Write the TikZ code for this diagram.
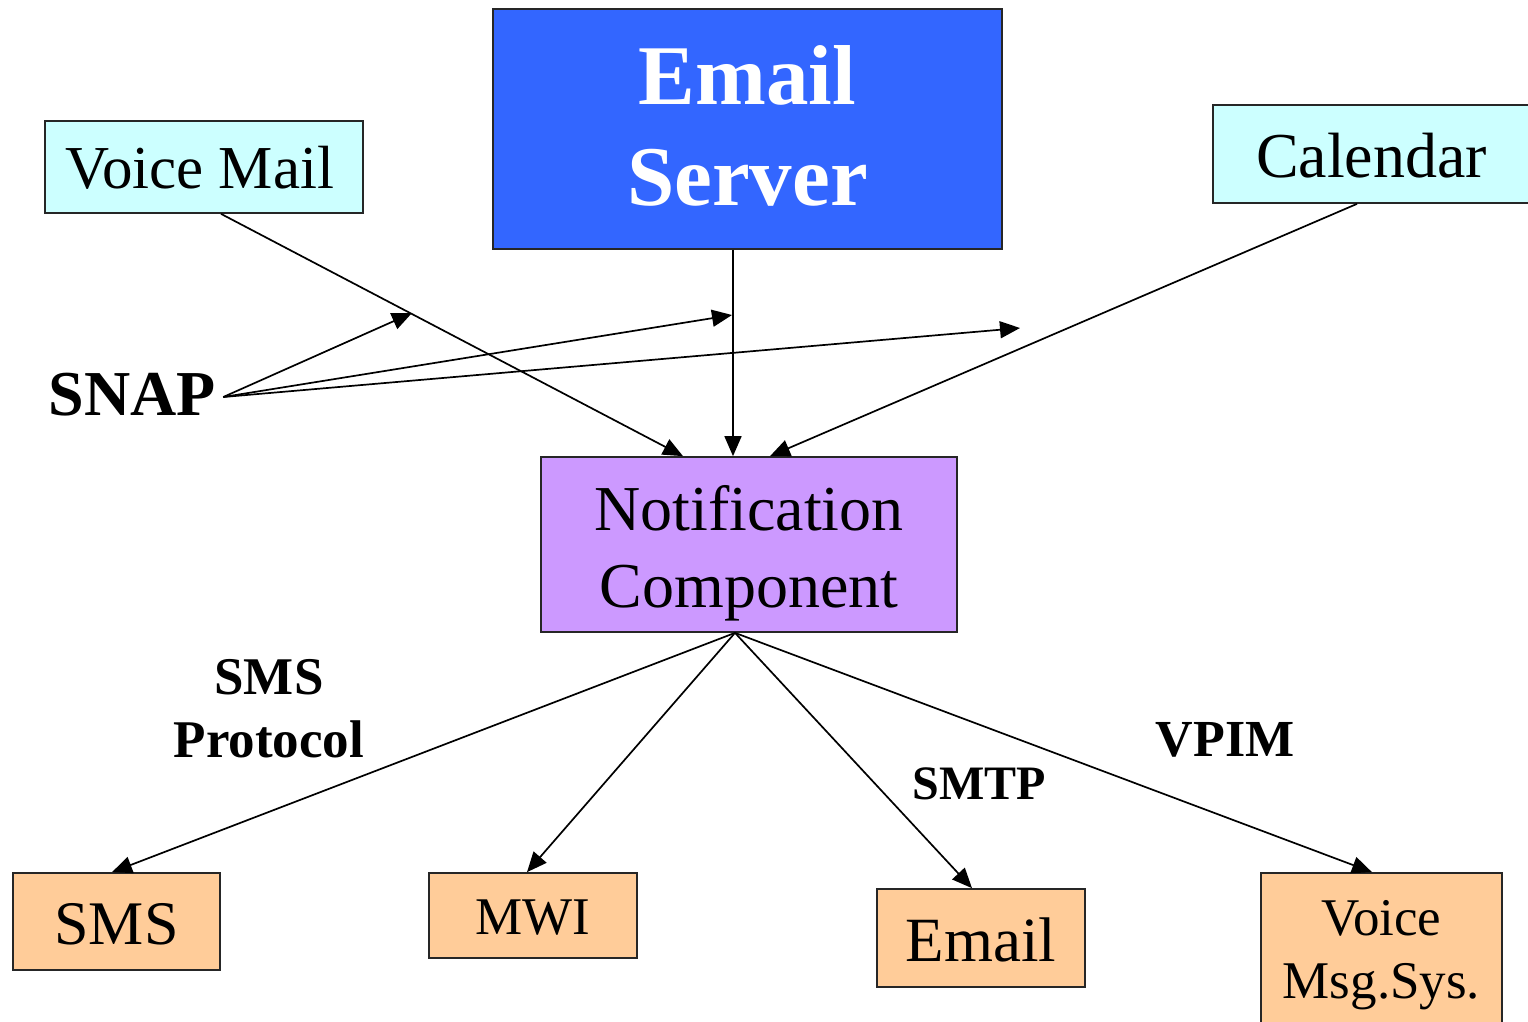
\documentclass[tikz,border=0pt]{standalone}
\usepackage{fontspec}
\setmainfont{Liberation Serif}
\usetikzlibrary{arrows.meta}
\definecolor{cyanbox}{HTML}{CCFFFF}
\definecolor{bluebox}{HTML}{3366FF}
\definecolor{violetbox}{HTML}{CC99FF}
\definecolor{orangebox}{HTML}{FFCC99}
\newcommand{\dstrut}[1]{\rule[-#1]{0pt}{#1}}
\newcommand{\hstrut}[1]{\rule{0pt}{#1}}
\begin{document}
\begin{tikzpicture}[x=1pt,y=-1pt,
  box/.style={draw=black!85, line width=1.7pt, inner sep=0pt, align=center},
  conn/.style={line width=1.7pt, -{Triangle[length=20pt,width=17pt]}},
  lbl/.style={inner sep=0pt, align=center}
]
\useasboundingbox (0,0) rectangle (1528,1021);

% top row
\node[box, fill=cyanbox, minimum width=318pt, minimum height=92pt,
      font=\fontsize{61}{72}\selectfont] (vm) at (204,167) {\hstrut{44pt}Voice Mail\hspace*{8pt}};
\node[box, fill=bluebox, text=white, minimum width=509pt, minimum height=240pt,
      font=\bfseries\fontsize{85}{101}\selectfont] (es) at (747.5,129) {Email\\Server\dstrut{7pt}};
\node[box, fill=cyanbox, minimum width=317pt, minimum height=98pt,
      font=\fontsize{64}{76}\selectfont] (cal) at (1371.5,154) {\hstrut{48pt}Calendar};

% middle
\node[box, fill=violetbox, minimum width=416pt, minimum height=175pt,
      font=\fontsize{64}{77}\selectfont] (nc) at (749,544.5) {\hstrut{62pt}Notification\\Component};

% bottom row
\node[box, fill=orangebox, minimum width=207pt, minimum height=97pt,
      font=\fontsize{62}{74}\selectfont] (sms) at (116.5,921.5) {\hstrut{47pt}SMS};
\node[box, fill=orangebox, minimum width=208pt, minimum height=85pt,
      font=\fontsize{53}{64}\selectfont] (mwi) at (533,915.5) {\hstrut{39pt}MWI};
\node[box, fill=orangebox, minimum width=208pt, minimum height=98pt,
      font=\fontsize{63}{75}\selectfont] (em) at (981,938) {\hstrut{48pt}Email};
\node[box, fill=orangebox, minimum width=241pt, minimum height=152pt,
      font=\fontsize{53}{63}\selectfont] (vms) at (1381.5,949) {\hstrut{47pt}Voice\\Msg.Sys.};

% labels
\node[lbl, font=\bfseries\fontsize{64}{77}\selectfont] (snap) at (132.5,395) {SNAP};
\node[lbl, font=\bfseries\fontsize{53}{63}\selectfont] (smsp) at (269,709) {SMS\\Protocol};
\node[lbl, font=\bfseries\fontsize{48}{58}\selectfont] (smtp) at (979,784) {SMTP};
\node[lbl, font=\bfseries\fontsize{52}{62}\selectfont] (vpim) at (1225,740) {VPIM};

% SNAP free ends
\coordinate (s1) at (412,313);
\coordinate (s2) at (732,315);
\coordinate (s3) at (1020,328);

% connectors into notification component
\draw[conn] ([xshift=17pt]vm.south) -- ([xshift=-66pt]nc.north);
\draw[conn] ([xshift=-14.5pt]es.south) -- ([xshift=-16pt]nc.north);
\draw[conn] ([xshift=-14.5pt]cal.south) -- ([xshift=21pt]nc.north);

% SNAP arrows
\draw[conn] ([xshift=7pt,yshift=-2pt]snap.east) -- (s1);
\draw[conn] ([xshift=7pt,yshift=-2pt]snap.east) -- (s2);
\draw[conn] ([xshift=7pt,yshift=-2pt]snap.east) -- (s3);

% connectors out of notification component
\draw[conn] ([xshift=-14pt]nc.south) -- ([xshift=-4.5pt]sms.north);
\draw[conn] ([xshift=-14pt]nc.south) -- ([xshift=-6pt]mwi.north);
\draw[conn] ([xshift=-14pt]nc.south) -- ([xshift=-9pt]em.north);
\draw[conn] ([xshift=-14pt]nc.south) -- ([xshift=-9.5pt]vms.north);
\end{tikzpicture}
\end{document}
